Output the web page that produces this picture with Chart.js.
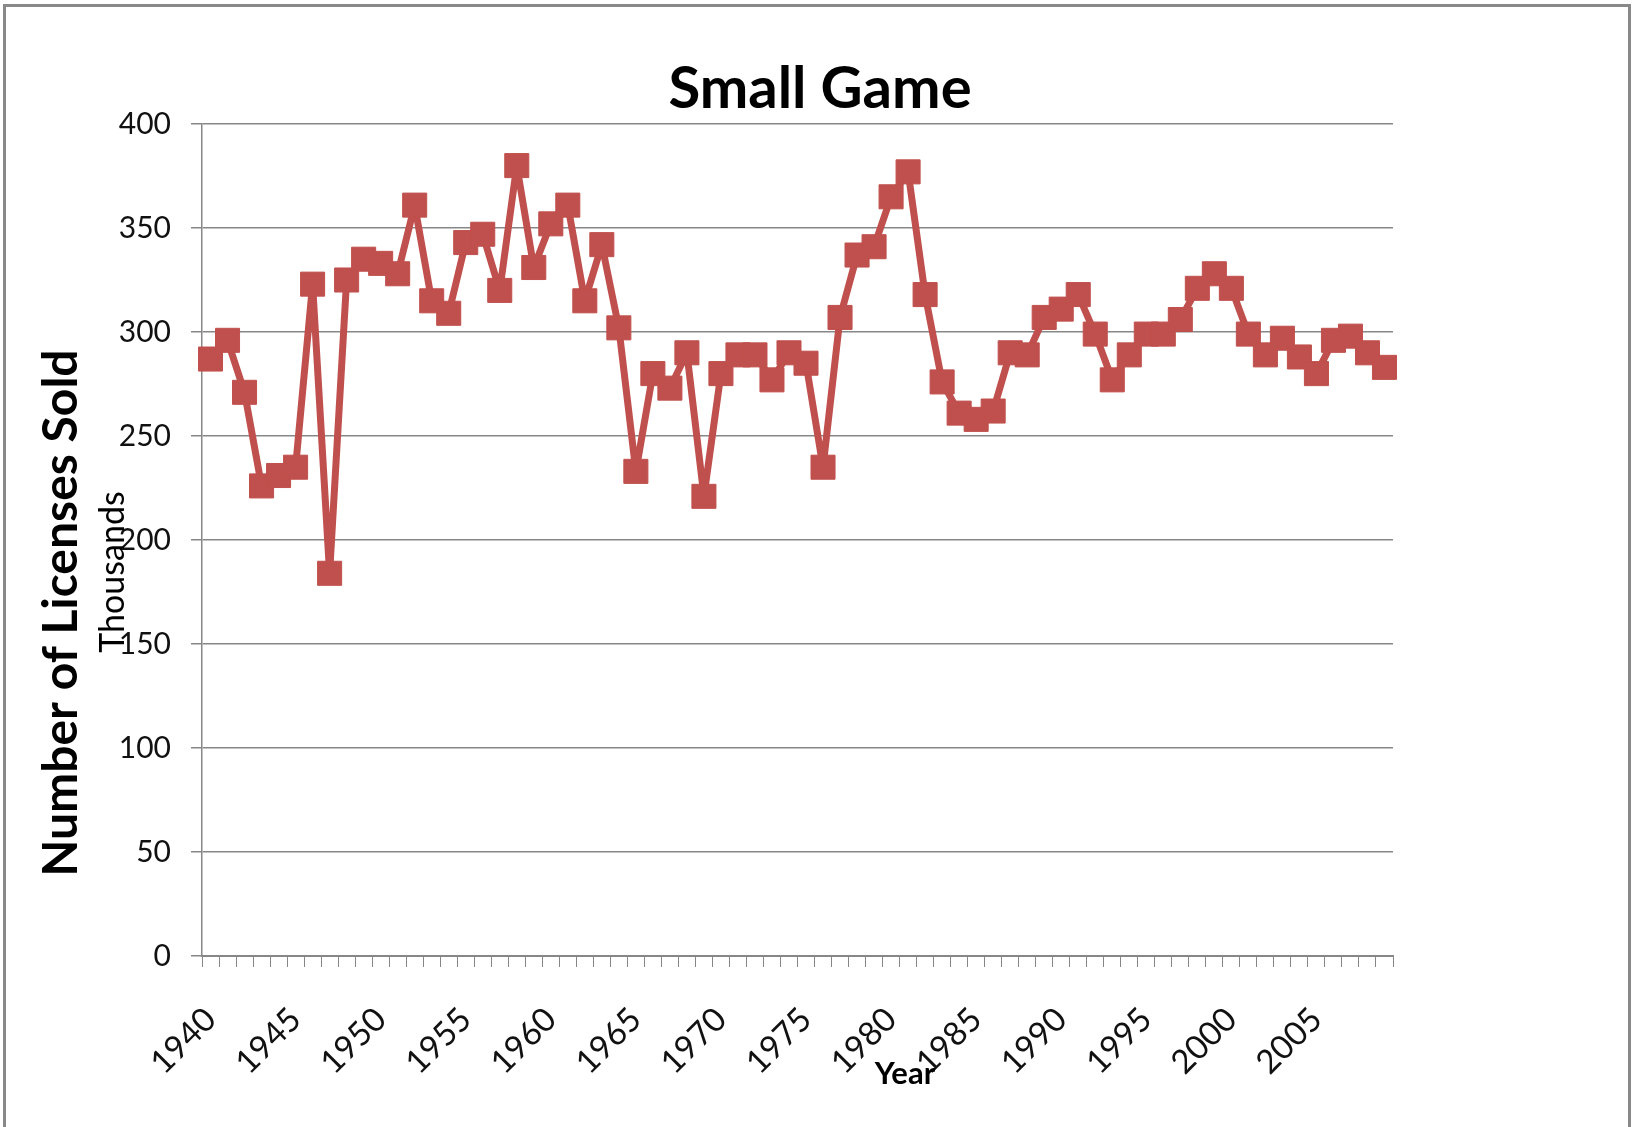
<!DOCTYPE html>
<html>
<head>
<meta charset="utf-8">
<script src="https://cdn.jsdelivr.net/npm/chart.js@4.4.1/dist/chart.umd.min.js"></script>
<style>
  html, body { margin: 0; padding: 0; background: #fff; }
  #wrap { position: relative; width: 1635px; height: 1127px; }
</style>
</head>
<body>
<div id="wrap"><canvas id="c"></canvas></div>
<script>
const chartTitle = 'Small Game';
const yAxisTitle = 'Number of Licenses Sold';
const yUnitLabel = 'Thousands';
const xAxisTitle = 'Year';

const years = [
  1940, 1941, 1942, 1943, 1944, 1945, 1946, 1947, 1948, 1949,
  1950, 1951, 1952, 1953, 1954, 1955, 1956, 1957, 1958, 1959,
  1960, 1961, 1962, 1963, 1964, 1965, 1966, 1967, 1968, 1969,
  1970, 1971, 1972, 1973, 1974, 1975, 1976, 1977, 1978, 1979,
  1980, 1981, 1982, 1983, 1984, 1985, 1986, 1987, 1988, 1989,
  1990, 1991, 1992, 1993, 1994, 1995, 1996, 1997, 1998, 1999,
  2000, 2001, 2002, 2003, 2004, 2005, 2006, 2007, 2008, 2009
];

const licensesThousands = [
  287, 296, 271, 226, 231, 235, 323, 184, 325, 335,
  333, 328, 361, 315, 309, 343, 347, 320, 380, 331,
  352, 361, 315, 342, 302, 233, 280, 273, 290, 221,
  280, 289, 289, 277, 290, 285, 235, 307, 337, 341,
  365, 377, 318, 276, 261, 258, 262, 290, 289, 307,
  311, 318, 299, 277, 289, 299, 299, 306, 321, 328,
  321, 299, 289, 297, 288, 280, 296, 298, 290, 283
];

const shownYearLabels = [1940, 1945, 1950, 1955, 1960, 1965, 1970, 1975, 1980, 1985, 1990, 1995, 2000, 2005];

const yMin = 0, yMax = 400, yStep = 50;

const SERIES_COLOR = '#C0504D';
const AXIS_GRAY = '#878787';
const FONT = 'Lato, "Open Sans", "Liberation Sans", sans-serif';

const frameAndTextPlugin = {
  id: 'frameAndText',
  beforeDraw(chart) {
    const ctx = chart.ctx;
    ctx.save();
    ctx.fillStyle = '#ffffff';
    ctx.fillRect(0, 0, chart.width, chart.height);
    ctx.fillStyle = '#898989';
    ctx.fillRect(3, 4, 3, chart.height);
    ctx.fillRect(3, 4, 1628, 3);
    ctx.fillRect(1628, 4, 3, chart.height);
    ctx.restore();
  },
  afterDraw(chart) {
    const ctx = chart.ctx;
    ctx.save();
    ctx.fillStyle = '#000';
    ctx.font = 'bold 58px ' + FONT;
    ctx.textAlign = 'center';
    ctx.textBaseline = 'alphabetic';
    ctx.fillText(chartTitle, 820, 108);
    ctx.font = 'bold 31px ' + FONT;
    ctx.fillText(xAxisTitle, 905, 1084);
    ctx.save();
    ctx.translate(77, 613);
    ctx.rotate(-Math.PI / 2);
    ctx.font = 'bold 48px ' + FONT;
    ctx.fillText(yAxisTitle, 0, 0);
    ctx.restore();
    ctx.save();
    ctx.translate(124, 572);
    ctx.rotate(-Math.PI / 2);
    ctx.font = '34px ' + FONT;
    ctx.fillText(yUnitLabel, 0, 0);
    ctx.restore();
    ctx.restore();
  }
};

function build() {
  new Chart(document.getElementById('c'), {
    type: 'line',
    data: {
      labels: years,
      datasets: [{
        label: 'Small Game',
        data: licensesThousands,
        borderColor: SERIES_COLOR,
        backgroundColor: SERIES_COLOR,
        borderWidth: 7,
        borderJoinStyle: 'round',
        tension: 0,
        pointStyle: 'rect',
        pointRadius: 17,
        pointHoverRadius: 17,
        pointBackgroundColor: SERIES_COLOR,
        pointBorderColor: SERIES_COLOR,
        pointBorderWidth: 1
      }]
    },
    options: {
      responsive: true,
      maintainAspectRatio: false,
      animation: false,
      devicePixelRatio: 1,
      layout: { padding: { top: 124, right: 242, left: 0, bottom: 0 } },
      plugins: {
        legend: { display: false },
        title: { display: false },
        tooltip: { enabled: false }
      },
      scales: {
        x: {
          type: 'category',
          offset: true,
          afterFit(scale) { scale.height = 171; },
          grid: {
            offset: true,
            drawOnChartArea: false,
            drawTicks: true,
            tickLength: 11,
            color: AXIS_GRAY,
            lineWidth: 1
          },
          border: { display: true, color: AXIS_GRAY, width: 2 },
          ticks: {
            autoSkip: false,
            maxRotation: 45,
            minRotation: 45,
            padding: 33,
            color: '#111',
            font: { family: FONT, size: 33 },
            callback(value, index) {
              const yr = years[index];
              return shownYearLabels.includes(yr) ? String(yr) : '';
            }
          }
        },
        y: {
          min: yMin,
          max: yMax,
          afterFit(scale) { scale.width = 202; },
          grid: {
            color: AXIS_GRAY,
            lineWidth: 1.5,
            drawTicks: true,
            tickLength: 11
          },
          border: { display: true, color: AXIS_GRAY, width: 1.5 },
          ticks: {
            stepSize: yStep,
            padding: 20,
            color: '#111',
            font: { family: FONT, size: 30 }
          }
        }
      }
    },
    plugins: [frameAndTextPlugin]
  });
}

const fontLoads = [
  '30px Lato', '33px Lato', 'bold 58px Lato', 'bold 48px Lato', '34px Lato'
].map(f => document.fonts ? document.fonts.load(f).catch(() => null) : Promise.resolve());
Promise.race([
  Promise.all(fontLoads),
  new Promise(r => setTimeout(r, 1500))
]).then(build);
</script>
</body>
</html>
